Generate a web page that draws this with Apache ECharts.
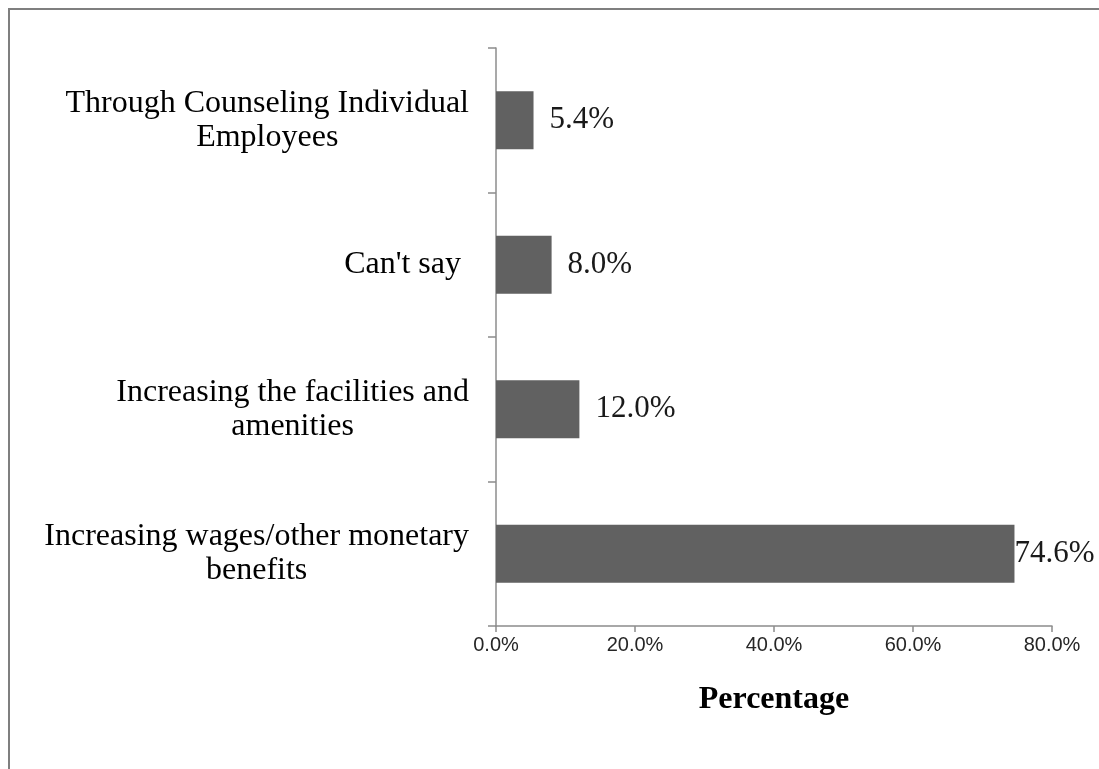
<!DOCTYPE html>
<html>
<head>
<meta charset="utf-8">
<script src="https://cdn.jsdelivr.net/npm/echarts@6/dist/echarts.min.js"></script>
<style>
  html, body { margin: 0; padding: 0; background: #fff; }
  #chart { width: 1099px; height: 769px; }
</style>
</head>
<body>
<div id="chart"></div>
<script>
// Survey responses, listed bottom to top as they appear on the axis
const categories = [
  'Increasing wages/other monetary\nbenefits',
  'Increasing the facilities and\namenities',
  "Can't say ",
  'Through Counseling Individual\nEmployees'
];
const percentages = [74.6, 12.0, 8.0, 5.4];
const xTicks = [0, 20, 40, 60, 80];

const chart = echarts.init(document.getElementById('chart'));

// Center each line of a wrapped category label within its block
function centeredLines(text) {
  return text.split('\n').map(line => '{c|' + line + '}').join('\n');
}

const barData = percentages.map(v => {
  const item = { value: v };
  // the widest bar leaves no room, so its label sits against the bar end
  if (v === Math.max(...percentages)) {
    item.label = { distance: 0 };
  }
  return item;
});

const serif = 'Liberation Serif';

chart.setOption({
  backgroundColor: '#ffffff',
  animation: false,
  graphic: [{
    type: 'rect',
    shape: { x: 9, y: 9, width: 1200, height: 900 },
    style: { fill: 'none', stroke: '#7f7f7f', lineWidth: 2 },
    silent: true
  }],
  grid: { left: 496, right: 47, top: 48, bottom: 143 },
  xAxis: {
    type: 'value',
    min: xTicks[0],
    max: xTicks[xTicks.length - 1],
    interval: xTicks[1] - xTicks[0],
    name: 'Percentage',
    nameLocation: 'middle',
    nameGap: 58,
    nameTextStyle: {
      fontFamily: serif, fontWeight: 'bold', fontSize: 32, color: '#000'
    },
    axisLine: { show: true, lineStyle: { color: '#8c8c8c', width: 1.5 } },
    axisTick: { show: true, length: 6, inside: false, lineStyle: { color: '#8c8c8c', width: 1.5 } },
    splitLine: { show: false },
    axisLabel: {
      margin: 9,
      fontFamily: 'Liberation Sans', fontSize: 20, color: '#262626',
      formatter: v => v.toFixed(1) + '%'
    }
  },
  yAxis: {
    type: 'category',
    data: categories,
    axisLine: { show: true, lineStyle: { color: '#8c8c8c', width: 1.5 } },
    axisTick: { show: true, length: 8, lineStyle: { color: '#8c8c8c', width: 1.5 } },
    axisLabel: {
      margin: 27,
      fontFamily: serif, fontSize: 32, color: '#000',
      lineHeight: 34,
      formatter: centeredLines,
      rich: { c: { align: 'center', fontFamily: serif, fontSize: 32, color: '#000', lineHeight: 34 } }
    }
  },
  series: [{
    type: 'bar',
    data: barData,
    barWidth: 58,
    itemStyle: { color: '#616161' },
    label: {
      show: true,
      position: 'right',
      distance: 16,
      fontFamily: serif, fontSize: 31, color: '#1a1a1a',
      formatter: p => p.value.toFixed(1) + '%'
    }
  }]
});
</script>
</body>
</html>
